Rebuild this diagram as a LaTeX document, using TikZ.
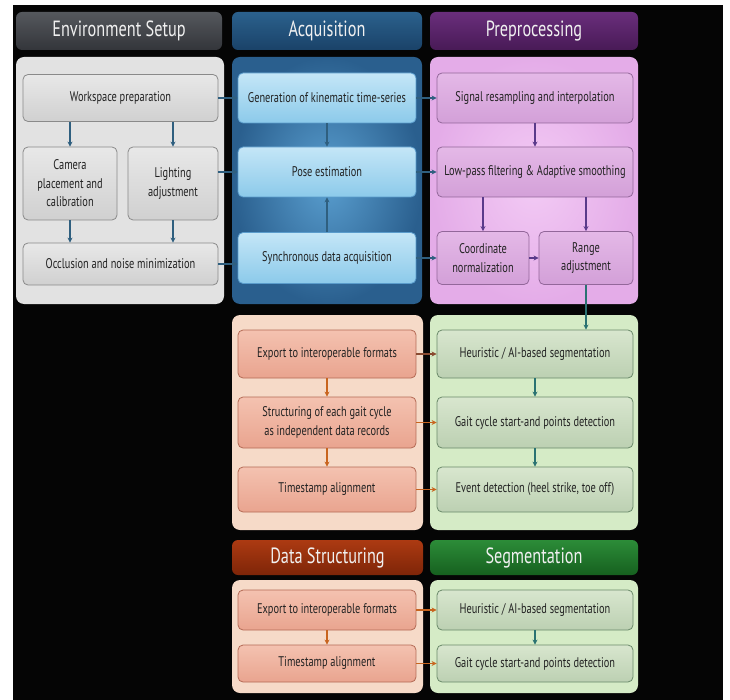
\documentclass[tikz,border=0pt]{standalone}
\usepackage{fontspec}
\setmainfont{PT Sans}[FakeStretch=0.74]
\usetikzlibrary{arrows.meta}

\definecolor{headtext}{HTML}{F0F0F0}
\definecolor{boxtext}{HTML}{222222}
\definecolor{envarrow}{HTML}{2F5F7F}
\definecolor{preparrow}{HTML}{5A3A8A}
\definecolor{tealarrow}{HTML}{2A7272}
\definecolor{orarrow}{HTML}{C8641E}
\definecolor{brarrow}{HTML}{8A4A30}
% node colours
\definecolor{envtop}{HTML}{E8E8E8}
\definecolor{envbot}{HTML}{D0D0D0}
\definecolor{envline}{HTML}{8A8A8A}
\definecolor{acqtop}{HTML}{C4E6F7}
\definecolor{acqbot}{HTML}{8CCAEA}
\definecolor{acqline}{HTML}{5A9CCC}
\definecolor{preptop}{HTML}{E4B8E7}
\definecolor{prepbot}{HTML}{D3A0D8}
\definecolor{prepline}{HTML}{93679A}
\definecolor{ortop}{HTML}{F4C2B0}
\definecolor{orbot}{HTML}{E9A48F}
\definecolor{orline}{HTML}{B46A55}
\definecolor{grtop}{HTML}{D8E6CE}
\definecolor{grbot}{HTML}{BCD0B2}
\definecolor{grline}{HTML}{6A8A6A}
% panel colours
\definecolor{envpan}{HTML}{E2E2E2}
\definecolor{acqpanin}{HTML}{5A9FD0}
\definecolor{acqpanout}{HTML}{2A5F8E}
\definecolor{preppanin}{HTML}{F3CBF5}
\definecolor{preppanout}{HTML}{E4ACE8}
\definecolor{orpan}{HTML}{F6DAC8}
\definecolor{grpan}{HTML}{D5EBC6}
% header colours
\definecolor{envheadtop}{HTML}{55585D}
\definecolor{envheadbot}{HTML}{33353A}
\definecolor{acqheadtop}{HTML}{2B618D}
\definecolor{acqheadbot}{HTML}{1A4268}
\definecolor{prepheadtop}{HTML}{6A2E7C}
\definecolor{prepheadbot}{HTML}{481A56}
\definecolor{dataheadtop}{HTML}{AC3A12}
\definecolor{dataheadbot}{HTML}{7E2508}
\definecolor{segheadtop}{HTML}{2C8C38}
\definecolor{segheadbot}{HTML}{16601F}

\begin{document}
\begin{tikzpicture}[x=1pt,y=-1pt,
    box/.style={rounded corners=5pt,draw,line width=0.8pt,align=center,inner sep=2pt,
                text=boxtext,font=\fontsize{14}{18.5}\selectfont},
    envbox/.style={box,top color=envtop,bottom color=envbot,draw=envline},
    acqbox/.style={box,top color=acqtop,bottom color=acqbot,draw=acqline},
    prepbox/.style={box,top color=preptop,bottom color=prepbot,draw=prepline},
    orbox/.style={box,top color=ortop,bottom color=orbot,draw=orline},
    grbox/.style={box,top color=grtop,bottom color=grbot,draw=grline},
    head/.style={rounded corners=6pt,text=headtext,font=\fontsize{22}{26}\selectfont,minimum height=38pt},
    panel/.style={rounded corners=8pt},
    >={Stealth[length=5pt,width=5pt]}]

% page and background
\useasboundingbox (0,0) rectangle (730,700);
\fill[white] (0,0) rectangle (730,700);
\fill[black!98] (13,5) rectangle (723,700);

% headers
\node[head,minimum width=206pt,top color=envheadtop,bottom color=envheadbot] (envhead) at (119,31) {Environment Setup};
\node[head,minimum width=190pt,top color=acqheadtop,bottom color=acqheadbot] (acqhead) at (327,31) {Acquisition};
\node[head,minimum width=208pt,top color=prepheadtop,bottom color=prepheadbot] (prephead) at (534,31) {Preprocessing};
\node[head,minimum width=191pt,minimum height=35pt,top color=dataheadtop,bottom color=dataheadbot] (datahead) at (327.5,557.5) {Data Structuring};
\node[head,minimum width=208pt,minimum height=35pt,top color=segheadtop,bottom color=segheadbot] (seghead) at (534,557.5) {Segmentation};

% panels
\node[panel,minimum width=208pt,minimum height=247pt,fill=envpan] (envpanel) at (120,180.5) {};
\node[panel,minimum width=190pt,minimum height=247pt,inner color=acqpanin,outer color=acqpanout] (acqpanel) at (327,180.5) {};
\node[panel,minimum width=208pt,minimum height=247pt,inner color=preppanin,outer color=preppanout] (preppanel) at (534,180.5) {};
\node[panel,minimum width=191pt,minimum height=215pt,fill=orpan] (orpanel) at (327.5,422.5) {};
\node[panel,minimum width=208pt,minimum height=215pt,fill=grpan] (grpanel) at (534,422.5) {};
\node[panel,minimum width=191pt,minimum height=113pt,fill=orpan] (orpanelb) at (327.5,636.5) {};
\node[panel,minimum width=208pt,minimum height=113pt,fill=grpan] (grpanelb) at (534,636.5) {};

% environment setup
\node[envbox,minimum width=195pt,minimum height=47pt] (ws) at (120.5,98) {Workspace preparation};
\node[envbox,minimum width=94pt,minimum height=73pt] (cam) at (70,183.5) {Camera\\placement and\\calibration};
\node[envbox,minimum width=90pt,minimum height=73pt] (light) at (173,183.5) {Lighting\\adjustment};
\node[envbox,minimum width=195pt,minimum height=42pt] (occl) at (120.5,264) {Occlusion and noise minimization};

% acquisition
\node[acqbox,minimum width=178pt,minimum height=50pt] (gen) at (327,98) {Generation of kinematic time-series};
\node[acqbox,minimum width=178pt,minimum height=50pt] (pose) at (327,172) {Pose estimation};
\node[acqbox,minimum width=178pt,minimum height=51pt] (sync) at (327,258) {Synchronous data acquisition};

% preprocessing
\node[prepbox,minimum width=196pt,minimum height=50pt] (sig) at (535,98) {Signal resampling and interpolation};
\node[prepbox,minimum width=196pt,minimum height=50pt] (low) at (535,172) {Low-pass filtering \& Adaptive smoothing};
\node[prepbox,minimum width=92pt,minimum height=53pt] (coord) at (483,258) {Coordinate\\normalization};
\node[prepbox,minimum width=94pt,minimum height=53pt] (range) at (586,258) {Range\\adjustment};

% data structuring and segmentation
\node[orbox,minimum width=178pt,minimum height=48pt] (exp) at (327,354) {Export to interoperable formats};
\node[orbox,minimum width=178pt,minimum height=51pt] (struc) at (327,422.5) {Structuring of each gait cycle\\as independent data records};
\node[orbox,minimum width=178pt,minimum height=45pt] (ts) at (327,489.5) {Timestamp alignment};
\node[grbox,minimum width=196pt,minimum height=48pt] (heur) at (535,354) {Heuristic / AI-based segmentation};
\node[grbox,minimum width=196pt,minimum height=51pt] (gait) at (535,422.5) {Gait cycle start-and points detection};
\node[grbox,minimum width=196pt,minimum height=45pt] (event) at (535,489.5) {Event detection (heel strike, toe off)};

\node[orbox,minimum width=178pt,minimum height=40pt] (expb) at (327,610) {Export to interoperable formats};
\node[orbox,minimum width=178pt,minimum height=37pt] (tsb) at (327,663.5) {Timestamp alignment};
\node[grbox,minimum width=196pt,minimum height=40pt] (heurb) at (535,610) {Heuristic / AI-based segmentation};
\node[grbox,minimum width=196pt,minimum height=37pt] (gaitb) at (535,663.5) {Gait cycle start-and points detection};

% connectors
\begin{scope}[line width=1.1pt,envarrow]
    \draw[->] (cam.north |- ws.south) -- (cam.north);
    \draw[->] (light.north |- ws.south) -- (light.north);
    \draw[->] (cam.south) -- (cam.south |- occl.north);
    \draw[->] (light.south) -- (light.south |- occl.north);
    \draw[->] (ws.east) -- (gen.west);
    \draw[->] (light.east |- pose.west) -- (pose.west);
    \draw[->] (occl.east) -- (occl.east -| sync.west);
    \draw[->] (gen.south) -- (pose.north);
    \draw[->] (sync.north) -- (pose.south);
    \draw[->] (gen.east) -- (sig.west);
    \draw[->] (pose.east) -- (low.west);
    \draw[->] (sync.east) -- (coord.west);
\end{scope}

\begin{scope}[line width=1.1pt,preparrow]
    \draw[->] (sig.south) -- (low.north);
    \draw[->] (coord.north |- low.south) -- (coord.north);
    \draw[->] (range.north |- low.south) -- (range.north);
    \draw[->] (coord.east) -- (range.west);
\end{scope}

\begin{scope}[line width=1.1pt,tealarrow]
    \draw[->] (range.south) -- (range.south |- heur.north);
    \draw[->] (heur.south) -- (gait.north);
    \draw[->] (gait.south) -- (event.north);
    \draw[->] (heurb.south) -- (gaitb.north);
\end{scope}

\begin{scope}[line width=1.1pt,orarrow]
    \draw[->] (exp.south) -- (struc.north);
    \draw[->] (struc.south) -- (ts.north);
    \draw[->] (struc.east) -- (gait.west);
    \draw[->] (ts.east) -- (event.west);
    \draw[->] (expb.south) -- (tsb.north);
    \draw[->] (expb.east) -- (heurb.west);
    \draw[->] (tsb.east) -- (gaitb.west);
    \draw[->,brarrow] (exp.east) -- (heur.west);
\end{scope}
\end{tikzpicture}
\end{document}
